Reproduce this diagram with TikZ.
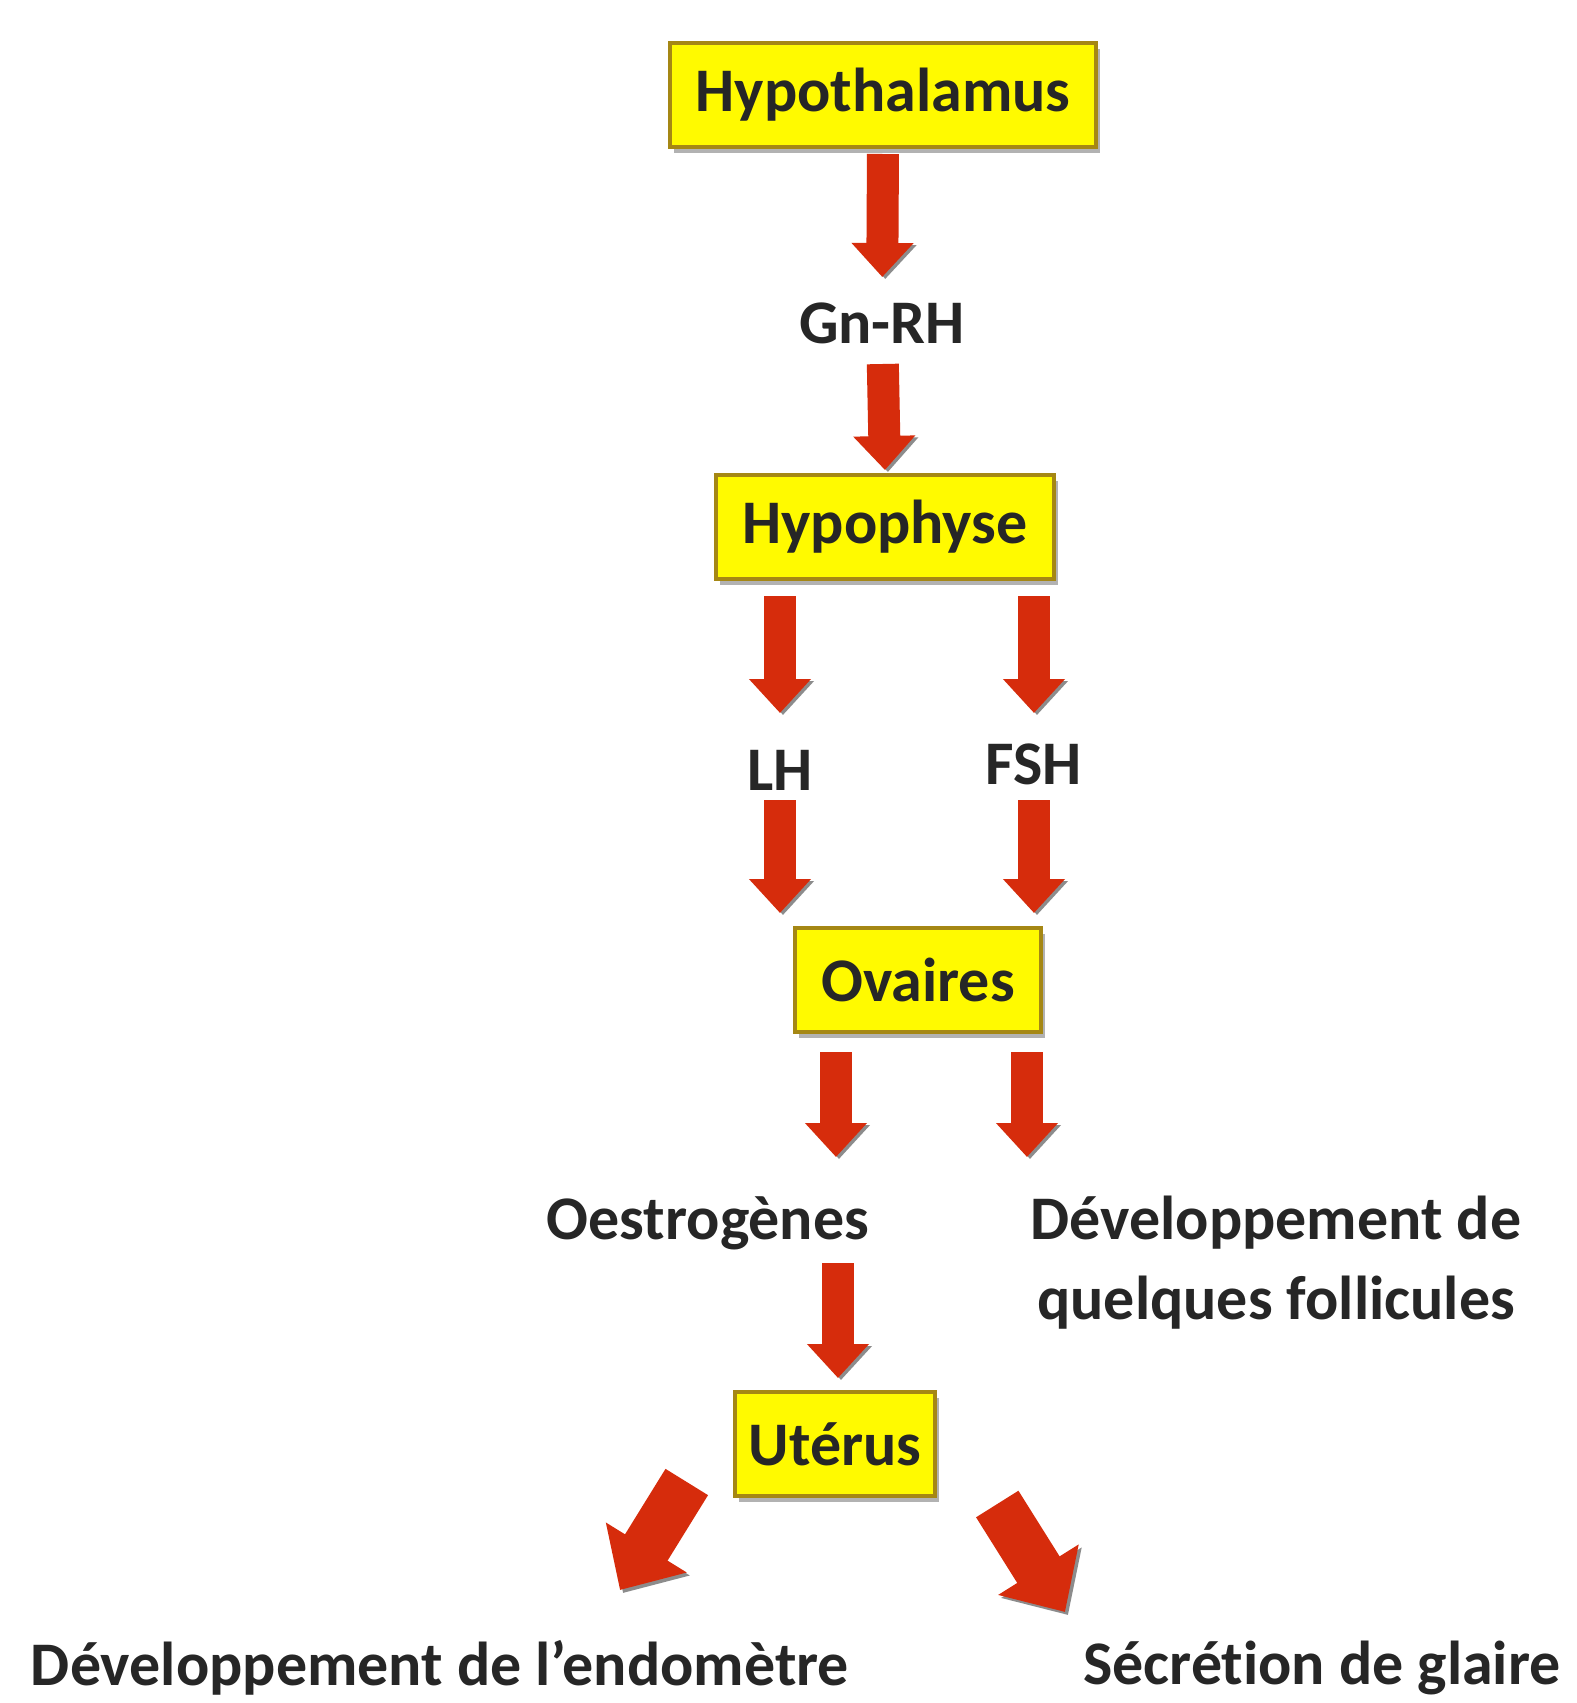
\documentclass[tikz,border=0pt]{standalone}
\usepackage{fontspec}
\setmainfont[Ligatures={NoCommon}]{Carlito}
\usetikzlibrary{arrows.meta,shadows,positioning}
\definecolor{jaune}{RGB}{255,250,0}
\definecolor{bord}{RGB}{165,135,20}
\definecolor{rouge}{RGB}{214,44,12}
\definecolor{texte}{RGB}{38,38,38}

\begin{document}
\begin{tikzpicture}[x=0.5pt,y=-0.5pt,
    box/.style={draw=bord,fill=jaune,line width=2pt,minimum height=52pt,inner xsep=13pt,text=texte,
            font=\fontsize{31}{40}\selectfont\bfseries,
            drop shadow={shadow xshift=2pt,shadow yshift=-3pt,fill=black!60,opacity=0.5}},
    lbl/.style={text=texte,font=\fontsize{31}{40}\selectfont\bfseries,align=center,inner sep=0pt},
    fleche/.style={rouge,line width=16pt,-{Triangle[width=30pt,length=17pt]},
            preaction={draw=black!45,transform canvas={xshift=1.5pt,yshift=-1pt}}},
    grosse/.style={rouge,line width=25pt,-{Triangle[width=46pt,length=25pt]},
            preaction={draw=black!45,transform canvas={xshift=1.5pt,yshift=-1.5pt}}}]

\useasboundingbox[fill=white] (0,0) rectangle (1576,1703);

%Hypothalamus / Hypophyse=================================================
\node[box] (1) at (883,95) {Hypothalamus};
\node[lbl] (2) at (882,323) {Gn-RH};
\node[box] (3) at (885,527) {Hypophyse};

\draw[fleche,shorten <=2.5pt,shorten >=23pt] (1.south)--(2.center);
\draw[fleche,shorten <=20.5pt,shorten >=1.5pt] (2.center)--(3.north);
%=======================================================================

%LH / FSH / Ovaires====================================================
\node[lbl] (4) at (780,770) {LH};
\node[lbl] (5) at (1034,764) {FSH};
\node[box] (6) at (918,980) {Ovaires};

\draw[fleche,shorten <=7.5pt,shorten >=28.5pt] (3.south -| 4)--(4.center);
\draw[fleche,shorten <=15pt,shorten >=6.5pt] (4.center)--(4 |- 6.north);
\draw[fleche,shorten <=7.5pt,shorten >=25.5pt] (3.south -| 5)--(5.center);
\draw[fleche,shorten <=18pt,shorten >=6.5pt] (5.center)--(5 |- 6.north);
%=======================================================================

%Oestrogenes / follicules / Uterus=======================================
\node[lbl] (7) at (708,1223) {Oestrogènes};
\node[lbl] (8) at (1276,1263) {Développement de\\quelques follicules};
\node[box,inner xsep=7pt] (9) at (835,1444) {Utérus};

\draw[fleche] ([xshift=-41pt,yshift=-9pt]6.south)--([xshift=64pt,yshift=33pt]7.center);
\draw[fleche] ([xshift=54.5pt,yshift=-9pt]6.south)--([xshift=-124.5pt,yshift=53pt]8.center);
\draw[fleche] ([xshift=65pt,yshift=-20pt]7.center)--([xshift=1.5pt,yshift=6pt]9.north);
%=======================================================================

%Endometre / glaire====================================================
\node[lbl] (10) at (440,1668) {Développement de l’endomètre};
\node[lbl] (11) at (1322,1668) {Sécrétion de glaire};

\draw[grosse] ([xshift=-23pt,yshift=8pt]9.south west)--([xshift=90pt,yshift=39pt]10.center);
\draw[grosse] ([xshift=30pt,yshift=-3pt]9.south east)--([xshift=-128.5pt,yshift=28pt]11.center);
%=======================================================================

\end{tikzpicture}
\end{document}
